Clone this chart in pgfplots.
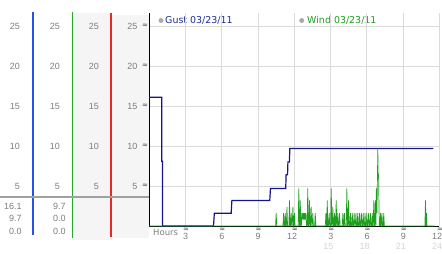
\documentclass[border=0pt]{standalone}
\usepackage{pgfplots}
\pgfplotsset{compat=1.18}
\usepackage{fontspec}
\setmainfont{Liberation Sans}
\newfontfamily\dv{DejaVu Sans}
\definecolor{gustc}{RGB}{20,20,140}
\definecolor{gusttext}{RGB}{30,45,150}
\definecolor{windc}{RGB}{30,160,30}
\definecolor{gridc}{RGB}{218,218,218}
\definecolor{tickc}{RGB}{125,125,125}
\definecolor{rowtwo}{RGB}{212,212,212}
\definecolor{markc}{RGB}{110,110,110}
\definecolor{shadec}{RGB}{245,245,245}
\definecolor{sepc}{RGB}{160,160,160}
\definecolor{dotc}{RGB}{170,170,170}
\definecolor{vblue}{RGB}{40,80,230}
\definecolor{vgreen}{RGB}{40,170,40}
\definecolor{vred}{RGB}{230,40,40}
\newcommand{\tmark}{{\dv\bfseries\fontsize{7}{7}\selectfont\symbol{"2248}}}
\begin{document}
\begin{tikzpicture}[x=1bp,y=1bp]
\path[use as bounding box] (0,0) rectangle (442,253);
% left panel
\fill[shadec] (72,13) rectangle (111,240);
\fill[shadec] (111,15) rectangle (149,238);
\fill[vblue] (32.4,241) rectangle (34.4,18);
\fill[vgreen] (71.6,241) rectangle (73.4,15);
\fill[vred] (110.4,240) rectangle (112.4,16);
\draw[sepc, line width=2bp] (0,56.3) -- (149,56.3);
\foreach \v in {5,10,15,20,25} {
  \pgfmathsetmacro{\yy}{27+8*\v}
  \node[anchor=east, inner sep=0pt, text=tickc, font=\fontsize{9}{9}\selectfont] at (20,\yy) {\v};
  \node[anchor=east, inner sep=0pt, text=tickc, font=\fontsize{9}{9}\selectfont] at (60,\yy) {\v};
  \node[anchor=east, inner sep=0pt, text=tickc, font=\fontsize{9}{9}\selectfont] at (99,\yy) {\v};
  \node[inner sep=0pt, text=markc] at (145,\yy) {\tmark};
}
\foreach \xx in {186.0,222.3,258.6,294.9,331.2,367.5,403.8,440.1} {
  \node[inner sep=0pt, text=markc] at (\xx,23.5) {\tmark};
}
\begin{scope}[every node/.style={anchor=east, inner sep=0pt, text=tickc, font=\fontsize{9}{9}\selectfont}]
\node at (21.7,47) {16.1};
\node at (21.7,34.5) {9.7};
\node at (21.7,22) {0.0};
\node at (65.7,47) {9.7};
\node at (65.7,34.5) {0.0};
\node at (65.7,22) {0.0};
\end{scope}
% legend
\fill[dotc] (161,232.5) circle (2.5);
\node[anchor=west, inner sep=0pt, text=gusttext, font=\dv\fontsize{9.5}{9.5}\selectfont] at (165,232.5) {Gust 03/23/11};
\fill[dotc] (301.7,232.5) circle (2.5);
\node[anchor=west, inner sep=0pt, text=windc, font=\dv\fontsize{9.5}{9.5}\selectfont] at (307,232.5) {Wind 03/23/11};
\node[anchor=west, inner sep=0pt, text=tickc, font=\dv\fontsize{8.5}{8.5}\selectfont] at (153,20.5) {Hours};
\begin{axis}[
  at={(149bp,27bp)}, anchor=south west, scale only axis,
  width=290.4bp, height=212.8bp,
  xmin=0, xmax=24, ymin=0, ymax=26.6,
  axis x line*=bottom, axis y line*=left,
  axis line style={black, line width=1bp},
  xtick={3,6,...,24}, ytick={5,10,...,25},
  xticklabels={3,6,9,12,3,6,9,12},
  yticklabels={5,10,15,20,25},
  grid=major, major grid style={gridc, line width=0.8bp},
  major tick length=0pt,
  xticklabel style={font=\fontsize{9}{9}\selectfont, text=tickc, anchor=north east, inner sep=0pt, xshift=3bp, yshift=-7.3bp},
  yticklabel style={font=\fontsize{9}{9}\selectfont, text=tickc, anchor=east, inner sep=0pt, xshift=-11.5bp},
  extra x ticks={15,18,21,24},
  extra x tick labels={15,18,21,24},
  extra x tick style={grid=none, xticklabel style={text=rowtwo, yshift=-9.7bp}},
  clip=false,
]
\addplot[gustc, line width=1.2bp] coordinates {
(0,16.1) (1.06,16.1) (1.06,8.1) (1.12,8.1) (1.12,0) (5.33,0) (5.40,1.6)
(6.79,1.6) (6.85,3.2) (9.98,3.2) (10.04,4.7) (11.30,4.7) (11.33,6.4)
(11.45,6.4) (11.48,8.0) (11.60,8.0) (11.64,9.7) (23.51,9.7)
};
\addplot[windc, line width=0.7bp] coordinates {
(0,0) (10.46,0) (10.51,1.6) (10.56,0)
(11.07,0) (11.12,1.6) (11.17,0)
(11.21,0) (11.26,1.6) (11.31,0)
(11.35,0) (11.40,2.4) (11.45,0)
(11.56,0) (11.61,3.2) (11.66,0)
(11.70,0) (11.75,1.6) (11.80,0)
(11.84,0) (11.89,2.4) (11.94,0)
(11.97,0) (12.02,1.6) (12.07,0)
(12.33,0) (12.38,4.7) (12.43,0)
(12.46,0) (12.50,3.2) (12.55,0)
(12.59,0) (12.63,1.6) (12.67,0.8) (12.72,1.6) (12.76,0.8) (12.80,1.6) (12.84,0.8) (12.88,1.6) (12.92,0.8) (12.96,1.6) (13.01,0)
(13.07,0) (13.12,4.7) (13.17,0)
(13.21,0) (13.26,3.2) (13.31,0)
(13.35,0) (13.40,2.4) (13.45,0)
(13.49,0) (13.54,1.6) (13.59,0)
(13.69,0) (13.74,1.6) (13.79,0)
(14.57,0) (14.62,1.6) (14.67,0)
(14.69,0) (14.73,3.2) (14.78,0)
(14.84,0) (14.89,1.6) (14.94,0)
(15.01,0) (15.06,4.7) (15.11,0)
(15.14,0) (15.19,2.4) (15.24,0)
(15.28,0) (15.33,1.6) (15.38,0)
(15.42,0) (15.47,3.2) (15.52,0)
(15.55,0) (15.60,1.6) (15.65,0)
(15.70,0) (15.75,1.6) (15.80,0)
(15.97,0) (16.02,1.6) (16.07,0)
(16.10,0) (16.15,1.6) (16.20,0)
(16.30,0) (16.35,4.7) (16.40,0)
(16.44,0) (16.49,3.2) (16.54,0)
(16.60,0) (16.65,1.6) (16.70,0)
(16.75,0) (16.80,1.6) (16.85,0)
(16.90,0) (16.95,1.6) (17.00,0)
(17.05,0) (17.10,1.6) (17.15,0)
(17.20,0) (17.25,1.6) (17.30,0)
(17.35,0) (17.40,1.6) (17.45,0)
(17.50,0) (17.55,1.6) (17.60,0)
(17.65,0) (17.70,1.6) (17.75,0)
(17.80,0) (17.85,1.6) (17.90,0)
(17.95,0) (18.00,1.6) (18.05,0)
(18.10,0) (18.15,1.6) (18.20,0)
(18.25,0) (18.30,1.6) (18.35,0)
(18.40,0) (18.45,1.6) (18.50,0)
(18.53,0) (18.58,3.2) (18.63,0)
(18.66,0) (18.71,3.2) (18.75,0) (18.79,4.7) (18.84,1.6) (18.91,9.7) (18.94,6.4) (18.97,6.4) (19.00,3.2) (19.03,0)
(19.08,0) (19.13,1.6) (19.18,0)
(19.20,0) (19.25,1.6) (19.30,0)
(19.35,0) (19.40,1.6) (19.45,0)
(22.80,0) (22.85,3.2) (22.89,0) (22.93,1.6) (22.97,0)
(23.60,0)
};
\end{axis}
\end{tikzpicture}
\end{document}
